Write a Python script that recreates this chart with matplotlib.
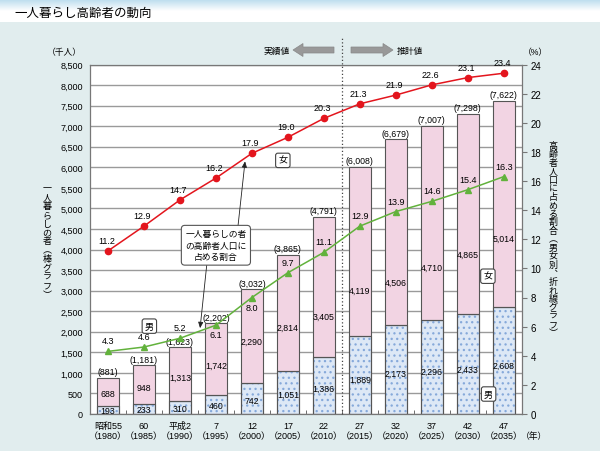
import matplotlib
matplotlib.use("Agg")
import matplotlib.pyplot as plt
from matplotlib.patches import FancyArrow, Rectangle
import numpy as np

plt.rcParams["font.family"] = ["Liberation Sans", "Noto Sans CJK JP", "DejaVu Sans"]
plt.rcParams["hatch.linewidth"] = 0.9

# ---- data ----
YEAR_LABELS = ["昭和55\n（1980）", "60\n（1985）", "平成2\n（1990）", "7\n（1995）",
               "12\n（2000）", "17\n（2005）", "22\n（2010）", "27\n（2015）",
               "32\n（2020）", "37\n（2025）", "42\n（2030）", "47\n（2035）"]
male_count = [193, 233, 310, 460, 742, 1051, 1386, 1889, 2173, 2296, 2433, 2608]
female_count = [688, 948, 1313, 1742, 2290, 2814, 3405, 4119, 4506, 4710, 4865, 5014]
total_count = [881, 1181, 1623, 2202, 3032, 3865, 4791, 6008, 6679, 7007, 7298, 7622]
female_ratio = [11.2, 12.9, 14.7, 16.2, 17.9, 19.0, 20.3, 21.3, 21.9, 22.6, 23.1, 23.4]
male_ratio = [4.3, 4.6, 5.2, 6.1, 8.0, 9.7, 11.1, 12.9, 13.9, 14.6, 15.4, 16.3]

# where inside the pink segment the number sits (fraction of segment height)
FEMALE_LABEL_FRAC = [0.43, 0.43, 0.45, 0.42, 0.45, 0.38, 0.29, 0.27, 0.23, 0.27, 0.30, 0.33]
MALE_BELOW = {3, 4}  # green labels drawn under the marker

PINK = "#f2d4e3"
BLUE = "#dde8f6"
DOTS = "#86a9da"
RED = "#e3151d"
GREEN = "#62b23c"
BG = "#e1edee"

W, H = 600, 452
fig = plt.figure(figsize=(6, 4.52), dpi=100)
fig.patch.set_facecolor("white")


def fx(px):
    return px / W


def fy(py):
    return 1 - py / H


# background panels
fig.patches.append(Rectangle((0, 0), 1, fy(23), transform=fig.transFigure,
                             facecolor=BG, edgecolor="none", zorder=-10))
grad_ax = fig.add_axes([0, fy(12), 1, 12 / H], zorder=-10)
grad = np.linspace(0, 1, 50).reshape(-1, 1)
grad_ax.imshow(np.dstack([0.72 + 0.28 * grad, 0.86 + 0.14 * grad, 0.93 + 0.07 * grad]),
               aspect="auto", extent=[0, 1, 0, 1])
grad_ax.axis("off")

fig.text(fx(14), fy(13), "一人暮らし高齢者の動向", fontsize=9, va="center",
         family=["Noto Sans CJK JP"])

ax = fig.add_axes([fx(90), fy(415), fx(521.7) - fx(90), (415 - 65.5) / H])
x = np.arange(len(YEAR_LABELS))
bw = 0.62

ax.set_axisbelow(True)
ax.yaxis.grid(True, color="#9a9a9a", linewidth=1.0)
ax.bar(x, male_count, bw, color=BLUE, edgecolor="#555555", linewidth=0.8, zorder=2)
ax.bar(x, male_count, bw, color="none", edgecolor=DOTS, hatch="...", linewidth=0, zorder=2.1)
ax.bar(x, male_count, bw, color="none", edgecolor="#555555", linewidth=0.8, zorder=2.2)
ax.bar(x, female_count, bw, bottom=male_count, color=PINK, edgecolor="#555555",
       linewidth=0.8, zorder=2)

for i in range(len(x)):
    ax.text(x[i], male_count[i] * 0.45, f"{male_count[i]:,}", ha="center", va="center",
            fontsize=6.3, zorder=3)
    ax.text(x[i], male_count[i] + female_count[i] * FEMALE_LABEL_FRAC[i],
            f"{female_count[i]:,}", ha="center", va="center", fontsize=6.3, zorder=3)
    ax.annotate(f"({total_count[i]:,})", (x[i], total_count[i]), xytext=(0, 4.5),
                textcoords="offset points", ha="center", va="center", fontsize=6.3)

ax.set_xlim(-0.5, 11.5)
ax.set_ylim(0, 8500)
ax.set_yticks(np.arange(0, 8501, 500))
ax.set_yticklabels([f"{v:,}" for v in range(0, 8501, 500)])
ax.tick_params(axis="y", length=0, pad=5, labelsize=6.5)
ax.set_xticks(x)
ax.set_xticklabels(YEAR_LABELS, fontsize=6.5, linespacing=1.15)
ax.tick_params(axis="x", which="major", length=0, pad=5)
ax.set_xticks(np.arange(0.5, 11, 1), minor=True)
ax.tick_params(axis="x", which="minor", direction="in", length=3, color="#555555")
for s in ax.spines.values():
    s.set_color("#777777")
    s.set_linewidth(0.9)

# forecast split
ax.vlines(6.5, 0, (415 - 37) / 0.04112, colors="#444444", linestyles=(0, (1, 1.8)),
          linewidth=0.9, clip_on=False, zorder=4)

ax2 = ax.twinx()
ax2.set_ylim(0, 24)
ax2.set_yticks(np.arange(0, 25, 2))
ax2.tick_params(axis="y", length=3.5, pad=3, labelsize=7, color="#777777")
for s in ax2.spines.values():
    s.set_visible(False)

ax2.plot(x, female_ratio, color=RED, linewidth=1.1, marker="o", markersize=4.5, zorder=5)
ax2.plot(x, male_ratio, color=GREEN, linewidth=1.1, marker="^", markersize=5, zorder=5)
for i in range(len(x)):
    ax2.annotate(f"{female_ratio[i]:.1f}", (x[i], female_ratio[i]), xytext=(-1, 7.5),
                 textcoords="offset points", ha="center", va="center", fontsize=6.5)
    dy = -7 if i in MALE_BELOW else 7.5
    ax2.annotate(f"{male_ratio[i]:.1f}", (x[i], male_ratio[i]), xytext=(0, dy),
                 textcoords="offset points", ha="center", va="center", fontsize=6.5)

box = dict(boxstyle="round,pad=0.3,rounding_size=0.25", facecolor="white",
           edgecolor="#444444", linewidth=0.8)
for tx, ty, s in [(4.86, 6168, "女"), (1.15, 2137, "男"), (10.56, 3351, "女"), (10.58, 486, "男")]:
    ax2.text(tx, ty, s, transform=ax.transData, ha="center", va="center", fontsize=6.5,
             family=["Noto Sans CJK JP"], bbox=box, zorder=7)

ax2.text(3.0, 4104, "一人暮らしの者\nの高齢者人口に\n占める割合", transform=ax.transData,
         ha="center", va="center", fontsize=6.3, linespacing=1.35,
         family=["Noto Sans CJK JP"], zorder=7,
         bbox=dict(boxstyle="round,pad=0.45,rounding_size=0.4", facecolor="white",
                   edgecolor="#555555", linewidth=0.8))
arrow = dict(arrowstyle="-|>,head_length=0.35,head_width=0.15", color="#222222",
             linewidth=0.6, shrinkA=0, shrinkB=0)
ax2.annotate("", xy=(3.81, 6144), xycoords=ax.transData, xytext=(3.61, 4541),
             textcoords=ax.transData, arrowprops=arrow, zorder=6)
ax2.annotate("", xy=(2.56, 2088), xycoords=ax.transData, xytext=(2.75, 3667),
             textcoords=ax.transData, arrowprops=arrow, zorder=6)

# header arrows
for tail, tip in [(334, 293), (351, 393)]:
    fig.patches.append(FancyArrow(fx(tail), fy(51), fx(tip) - fx(tail), 0,
                                  width=6 / H, head_width=13 / H, head_length=10 / W,
                                  length_includes_head=True, transform=fig.transFigure,
                                  facecolor="#999999", edgecolor="#888888", linewidth=0.5))
fig.text(fx(290), fy(51), "実績値", ha="right", va="center", fontsize=6.3,
         family=["Noto Sans CJK JP"])
fig.text(fx(397), fy(51), "推計値", ha="left", va="center", fontsize=6.3,
         family=["Noto Sans CJK JP"])

# unit labels
fig.text(fx(64), fy(53), "（千人）", ha="center", va="center", fontsize=6.3)
fig.text(fx(535), fy(53), "（%）", ha="center", va="center", fontsize=6.3)
fig.text(fx(534), fy(437), "（年）", ha="center", va="center", fontsize=6.3)

# vertical axis titles
fig.text(fx(47), fy(242), "\n".join("一人暮らしの者︵棒グラフ︶"), ha="center", va="center",
         fontsize=6.5, linespacing=0.98, family=["Noto Sans CJK JP"])
fig.text(fx(553), fy(240), "\n".join("高齢者人口に占める割合︵男女別︑折れ線グラフ︶"),
         ha="center", va="center", fontsize=6.5, linespacing=0.93,
         family=["Noto Sans CJK JP"])

fig.savefig("out.png", dpi=100, facecolor=fig.get_facecolor())
